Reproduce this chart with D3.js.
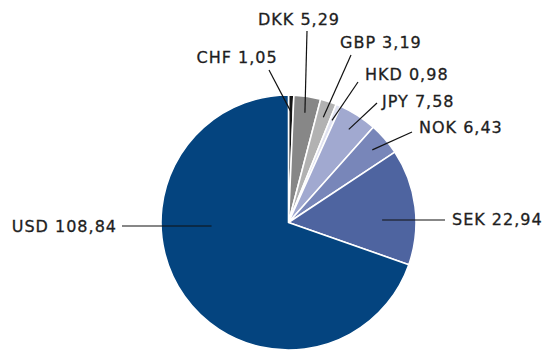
<!DOCTYPE html>
<html>
<head>
<meta charset="utf-8">
<script src="https://cdn.jsdelivr.net/npm/d3@7"></script>
<style>
  html, body { margin: 0; padding: 0; background: #fff; }
  svg { display: block; }
  text { font-family: "DejaVu Sans", sans-serif; font-size: 16px; letter-spacing: 1px; fill: #1e1e1e; stroke: #1e1e1e; stroke-width: 0.3px; }
</style>
</head>
<body>
<svg id="chart" width="545" height="351"></svg>
<script>
// Currency shares, clockwise from twelve o'clock
const currencies = ["CHF", "DKK", "GBP", "HKD", "JPY", "NOK", "SEK", "USD"];
const values = [1.05, 5.29, 3.19, 0.98, 7.58, 6.43, 22.94, 108.84];
const valueLabels = ["1,05", "5,29", "3,19", "0,98", "7,58", "6,43", "22,94", "108,84"];
const colors = ["#151515", "#878787", "#b2b2b2", "#dfe1ef", "#a1a9d0", "#7886b9", "#4e64a0", "#04447f"];

// Label placement relative to the pie centre: text start, leader-line outer end
const labelDx = [-92, -30.5, 51.5, 76.5, 93.5, 130.5, 163.5, -171.5];
const labelDy = [-159.5, -197.5, -174.5, -142.5, -115.5, -89.5, 2.5, 9.5];
const lineDx = [-19.5, 18.5, 62.5, 69.5, 88.5, 123.5, 156.5, -166.5];
const lineDy = [-152.5, -191.5, -167.5, -140.5, -119.5, -90.5, -2.5, 3.5];
const horizontalLeader = [false, false, false, false, false, false, true, true];

const cx = 288.5, cy = 222.5, R = 127.5;

const data = currencies.map((c, i) => ({ name: c, value: values[i], label: valueLabels[i], color: colors[i], i }));

const pie = d3.pie().sort(null).value(d => d.value);
const arcs = pie(data);
const arc = d3.arc().innerRadius(0).outerRadius(R);

const svg = d3.select("#chart");
const g = svg.append("g").attr("transform", `translate(${cx},${cy})`);

g.selectAll("path.slice")
  .data(arcs)
  .join("path")
  .attr("class", "slice")
  .attr("d", arc)
  .attr("fill", d => d.data.color)
  .attr("stroke", "#fff")
  .attr("stroke-width", 1.6)
  .attr("stroke-linejoin", "round");

const innerArc = d3.arc().innerRadius(R * 0.87).outerRadius(R * 0.87);
const midArc = d3.arc().innerRadius(R * 0.74).outerRadius(R * 0.74);

g.selectAll("line.leader")
  .data(arcs)
  .join("line")
  .attr("class", "leader")
  .attr("x1", d => {
    const i = d.data.i;
    return horizontalLeader[i] ? midArc.centroid(d)[0] : innerArc.centroid(d)[0];
  })
  .attr("y1", d => {
    const i = d.data.i;
    return horizontalLeader[i] ? lineDy[i] : innerArc.centroid(d)[1];
  })
  .attr("x2", d => lineDx[d.data.i])
  .attr("y2", d => lineDy[d.data.i])
  .attr("stroke", "#111")
  .attr("stroke-width", 1.2);

g.selectAll("text.lbl")
  .data(arcs)
  .join("text")
  .attr("class", "lbl")
  .attr("x", d => labelDx[d.data.i])
  .attr("y", d => labelDy[d.data.i])
  .attr("text-anchor", d => d.data.i === 7 ? "end" : "start")
  .text(d => `${d.data.name} ${d.data.label}`);
</script>
</body>
</html>
